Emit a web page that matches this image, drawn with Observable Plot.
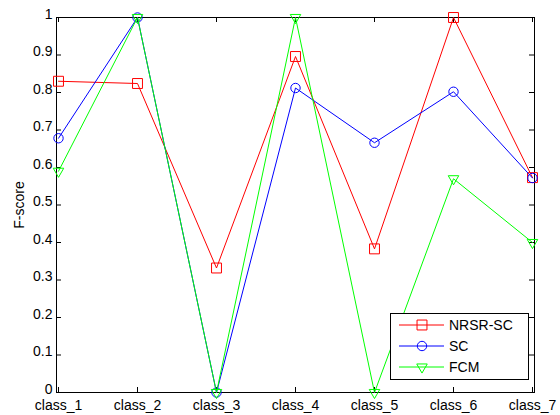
<!DOCTYPE html>
<html>
<head>
<meta charset="utf-8">
<script src="https://cdn.jsdelivr.net/npm/d3@7"></script>
<script src="https://cdn.jsdelivr.net/npm/@observablehq/plot@0.6"></script>
<style>
  body { margin: 0; background: #fff; }
  #wrap { position: relative; width: 560px; height: 415px; font-family: Arial, "Liberation Sans", sans-serif; }
  #legend { position: absolute; left: 390px; top: 313px; width: 137px; height: 65px; border: 1px solid #000; background: #fff; font-size: 14px; }
</style>
</head>
<body>
<div id="wrap"></div>
<script>
const classes = ["class_1","class_2","class_3","class_4","class_5","class_6","class_7"];
const seriesNames = ["NRSR-SC","SC","FCM"];
const nrsrsc = [0.83, 0.824, 0.332, 0.896, 0.383, 1.0, 0.573];
const sc     = [0.678, 1.0, 0.0, 0.812, 0.666, 0.802, 0.572];
const fcm    = [0.59, 1.0, 0.0, 1.0, 0.0, 0.57, 0.40];
const yTicks = [0,0.1,0.2,0.3,0.4,0.5,0.6,0.7,0.8,0.9,1];
const colors = {"NRSR-SC": "#ff0000", "SC": "#0000ff", "FCM": "#00ff00"};
const symbols = {"NRSR-SC": "square", "SC": "circle", "FCM": "triangle"};

const data = [];
[nrsrsc, sc, fcm].forEach((vals, i) => vals.forEach((v, j) => data.push({series: seriesNames[i], cls: classes[j], v})));
const sub = s => data.filter(d => d.series === s);

const W = 560, H = 415, mL = 56, mR = 26, mT = 17, mB = 23;
const fw = W - mL - mR, fh = H - mT - mB;

const marks = [
  Plot.frame({stroke: "#000", strokeWidth: 1}),
  Plot.tickX(classes, {x: d => d, insetTop: fh - 5, stroke: "#000"}),
  Plot.tickX(classes, {x: d => d, insetBottom: fh - 5, stroke: "#000"}),
  Plot.tickY(yTicks, {y: d => d, insetRight: fw - 5, stroke: "#000"}),
  Plot.tickY(yTicks, {y: d => d, insetLeft: fw - 5, stroke: "#000"}),
  Plot.axisX({tickSize: 0, tickPadding: 8, fontSize: 14, label: null}),
  Plot.axisY(yTicks, {tickSize: 0, tickPadding: 4, dy: -3, fontSize: 14, tickFormat: d => String(d), label: "F-score", labelAnchor: "center", labelArrow: "none", labelOffset: 42})
];
for (const s of seriesNames) {
  marks.push(Plot.line(sub(s), {x: "cls", y: "v", stroke: colors[s], strokeWidth: 1}));
  const opts = {x: "cls", y: "v", stroke: colors[s], fill: "none", strokeWidth: 1, symbol: symbols[s]};
  if (s === "NRSR-SC") opts.r = 5.6;
  if (s === "SC") opts.r = 4.7;
  if (s === "FCM") { opts.r = 3.9; opts.rotate = 180; }
  marks.push(Plot.dot(sub(s), opts));
}

const chart = Plot.plot({
  width: W, height: H,
  marginLeft: mL, marginRight: mR, marginTop: mT, marginBottom: mB,
  style: {fontFamily: "Arial, 'Liberation Sans', sans-serif", fontSize: "14px", color: "#000", background: "#fff"},
  x: {type: "point", domain: classes, padding: 0},
  y: {domain: [0, 1]},
  marks
});
const wrap = document.getElementById("wrap");
wrap.appendChild(chart);

// Legend
const legend = document.createElement("div");
legend.id = "legend";
const ns = "http://www.w3.org/2000/svg";
const lsvg = document.createElementNS(ns, "svg");
lsvg.setAttribute("width", 137); lsvg.setAttribute("height", 65);
lsvg.style.position = "absolute"; lsvg.style.left = "0"; lsvg.style.top = "0";
const rowsY = [11, 32, 53];
seriesNames.forEach((s, i) => {
  const y = rowsY[i];
  const ln = document.createElementNS(ns, "line");
  ln.setAttribute("x1", 8); ln.setAttribute("x2", 53); ln.setAttribute("y1", y); ln.setAttribute("y2", y);
  ln.setAttribute("stroke", colors[s]); ln.setAttribute("stroke-width", 1);
  lsvg.appendChild(ln);
  const sym = {square: d3.symbolSquare, circle: d3.symbolCircle, triangle: d3.symbolTriangle}[symbols[s]];
  const r = s === "NRSR-SC" ? 5.6 : s === "SC" ? 4.7 : 3.9;
  const p = document.createElementNS(ns, "path");
  p.setAttribute("d", d3.symbol(sym, Math.PI * r * r)());
  p.setAttribute("transform", `translate(31,${y})` + (s === "FCM" ? " rotate(180)" : ""));
  p.setAttribute("fill", "none"); p.setAttribute("stroke", colors[s]);
  lsvg.appendChild(p);
  const t = document.createElementNS(ns, "text");
  t.setAttribute("x", 58); t.setAttribute("y", y); t.setAttribute("dy", "0.35em");
  t.setAttribute("font-size", 14); t.setAttribute("font-family", "Arial, 'Liberation Sans', sans-serif");
  t.textContent = s;
  lsvg.appendChild(t);
});
legend.appendChild(lsvg);
wrap.appendChild(legend);
</script>
</body>
</html>
